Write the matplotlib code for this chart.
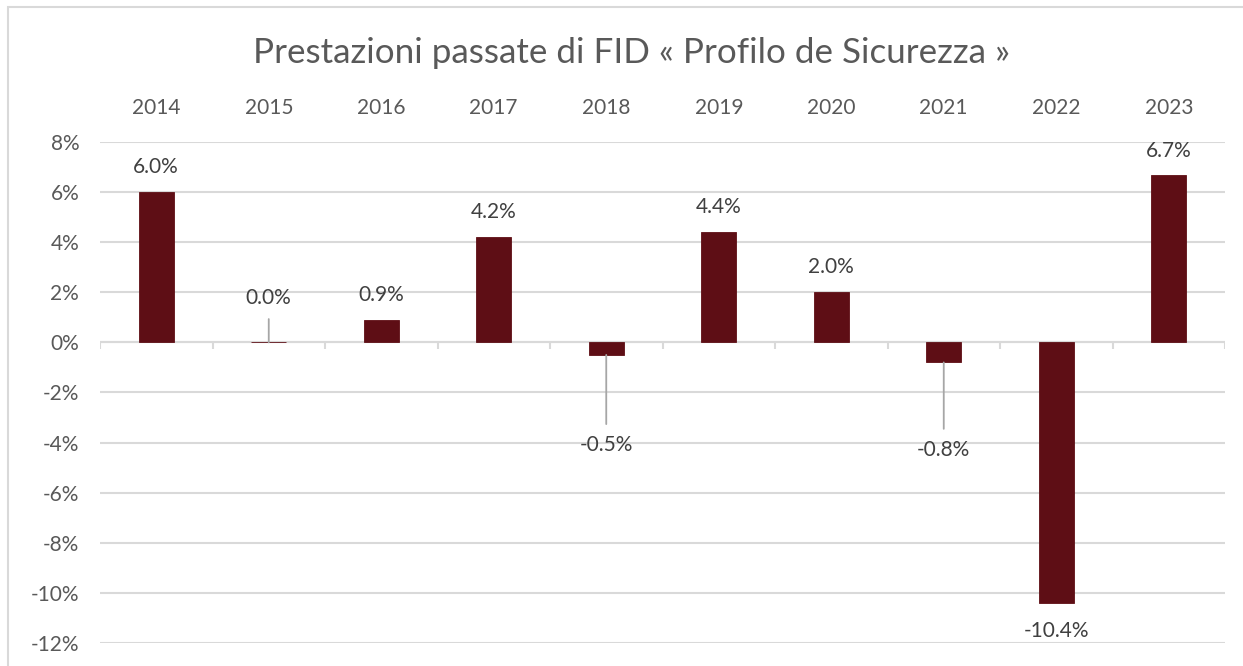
import matplotlib.pyplot as plt
import matplotlib.patches as mpatches
import numpy as np

plt.rcParams['font.family'] = ['Lato', 'DejaVu Sans']

# dati
anni = ['2014', '2015', '2016', '2017', '2018', '2019', '2020', '2021', '2022', '2023']
rendimenti = [6.0, 0.0, 0.9, 4.2, -0.5, 4.4, 2.0, -0.8, -10.4, 6.7]
y_ticks = [8, 6, 4, 2, 0, -2, -4, -6, -8, -10, -12]

# distanza etichette (punti) e linee guida
offset_etichette = [18, 32, 18, 18, 65, 18, 18, 63, 20, 17]
linea_guida = [False, True, False, False, True, False, False, True, False, False]

bordeaux = '#5E0E15'
grigio_testo = '#595959'
grigio_griglia = '#D9D9D9'

fig = plt.figure(figsize=(12.43, 6.66), dpi=100)
ax = fig.add_axes([100 / 1243, 1 - 643 / 666, 1125 / 1243, 501 / 666])

x = np.arange(len(anni))
ax.bar(x, rendimenti, width=0.31, color=bordeaux, edgecolor=bordeaux, lw=0.6, zorder=3)

ax.set_xlim(-0.5, len(anni) - 0.5)
ax.set_ylim(-12, 8)
ax.set_yticks(y_ticks)
ax.set_yticklabels([f'{v}%' for v in y_ticks])
ax.yaxis.grid(True, color=grigio_griglia, lw=1.5, zorder=0)
ax.tick_params(axis='y', length=0, pad=15, labelsize=15, labelcolor=grigio_testo)

ax.xaxis.tick_top()
ax.set_xticks(x)
ax.set_xticklabels(anni)
ax.tick_params(axis='x', length=0, pad=17, labelsize=15, labelcolor=grigio_testo)

for s in ax.spines.values():
    s.set_visible(False)

# asse dello zero con tacche tra le categorie
ax.axhline(0, color=grigio_griglia, lw=1.5, zorder=2)
ax.vlines(np.arange(len(anni) + 1) - 0.5, -0.25, 0, color=grigio_griglia, lw=1.5, zorder=2)

# etichette dati
for xi, v, off, guida in zip(x, rendimenti, offset_etichette, linea_guida):
    segno = 1 if v >= 0 else -1
    props = dict(arrowstyle='-', color='#A6A6A6', lw=1.3, shrinkA=6, shrinkB=0) if guida else None
    ax.annotate(f'{v:.1f}%', xy=(xi, v), xytext=(0, segno * off), textcoords='offset points',
                ha='center', va='center', fontsize=15, color='#404040',
                arrowprops=props, zorder=4)

fig.text(632 / 1243, 1 - 53 / 666, 'Prestazioni passate di FID « Profilo de Sicurezza »',
         ha='center', va='center', fontsize=25.2, color=grigio_testo)

# bordo del grafico
fig.add_artist(mpatches.Rectangle((8 / 1243, -0.1), 1.2, 1 - 7 / 666 + 0.1,
                                  transform=fig.transFigure, fill=False,
                                  edgecolor=grigio_griglia, lw=1.5))

fig.savefig('out.png', dpi=100)
